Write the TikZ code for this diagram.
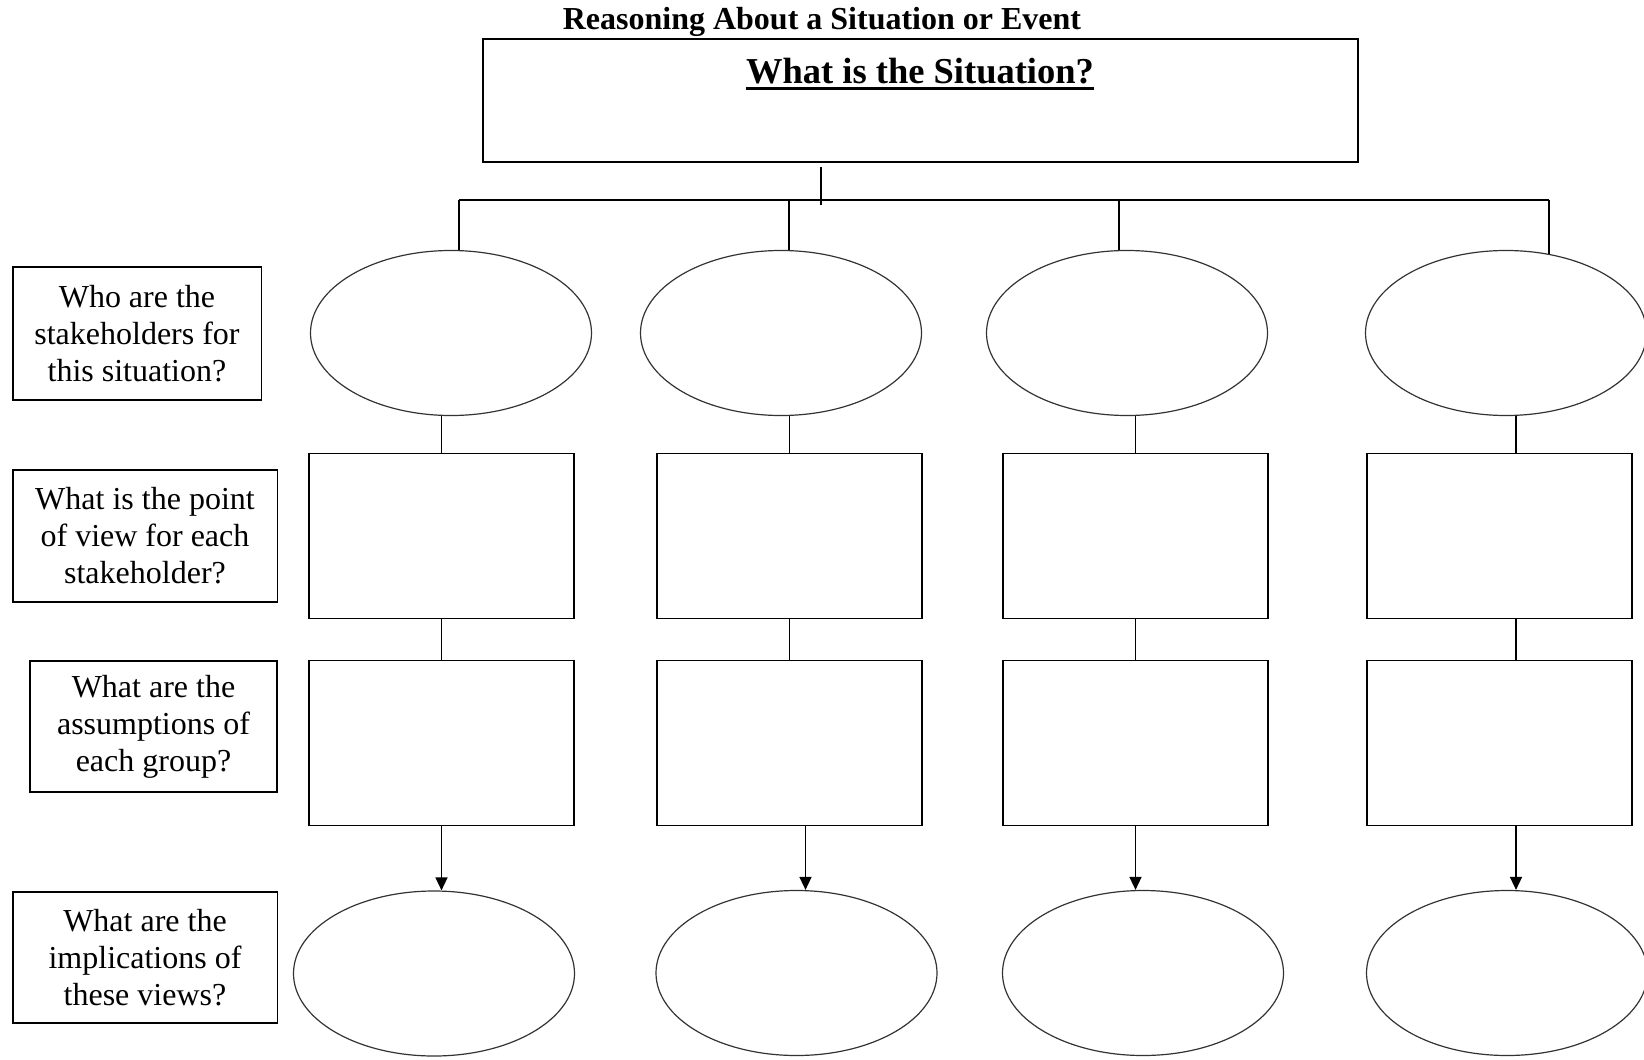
\documentclass[tikz,border=0pt]{standalone}
\usepackage{fontspec}
\setmainfont{Liberation Serif}
\usetikzlibrary{shapes.geometric,arrows.meta}

\tikzset{
    question/.style={draw, line width=1.5pt, align=center, inner sep=0pt,
        font=\fontsize{32}{37}\selectfont},
    oval/.style={draw=black!80, ellipse, line width=1.2pt, inner sep=0pt,
        minimum width=281pt, minimum height=165pt},
    blank/.style={draw, line width=1.6pt, inner sep=0pt,
        minimum width=265pt, minimum height=165pt},
    link/.style={line width=1.5pt},
    flow/.style={line width=1.5pt, -{Triangle[width=12pt,length=13pt]}}
}

\begin{document}
\begin{tikzpicture}[x=1pt, y=-1pt]
        \useasboundingbox (0,0) rectangle (1644,1060);

        % Title and situation box
        \node[anchor=base, inner sep=0pt, font=\fontsize{32}{36}\selectfont\bfseries] (title) at (822,29) {Reasoning About a Situation or Event};
        \node[draw, line width=1.6pt, inner sep=0pt, minimum width=875pt, minimum height=123pt] (sit) at (920.5,100.5) {};
        \node[anchor=base, inner sep=0pt, font=\fontsize{36.5}{40}\selectfont\bfseries] (head) at (920,83) {What is the Situation?};
        \draw[line width=3pt] ([yshift=-5pt]head.base west) -- ([yshift=-5pt]head.base east);

        % Questions on the left
        \node[question, minimum width=248.5pt, minimum height=133pt] (q1) at (137,333.5) {Who are the\\stakeholders for\\this situation?};
        \node[question, minimum width=264.5pt, minimum height=132pt] (q2) at (145,536) {What is the point\\of view for each\\stakeholder?};
        \node[question, minimum width=247pt, minimum height=131pt] (q3) at (153.5,726.5) {What are the\\assumptions of\\each group?};
        \node[question, minimum width=264.5pt, minimum height=131pt] (q4) at (145,957.5) {What are the\\implications of\\these views?};

        % Stakeholders
        \node[oval] (e1) at (451,333) {};
        \node[oval] (e2) at (781,333) {};
        \node[oval] (e3) at (1127,333) {};
        \node[oval] (e4) at (1506,333) {};

        % Points of view
        \node[blank] (p1) at (441.5,536) {};
        \node[blank] (p2) at (789.5,536) {};
        \node[blank] (p3) at (1135.5,536) {};
        \node[blank] (p4) at (1499.5,536) {};

        % Assumptions
        \node[blank] (a1) at (441.5,743) {};
        \node[blank] (a2) at (789.5,743) {};
        \node[blank] (a3) at (1135.5,743) {};
        \node[blank] (a4) at (1499.5,743) {};

        % Implications
        \node[oval] (b1) at (434,973.5) {};
        \node[oval] (b2) at (796.5,973) {};
        \node[oval] (b3) at (1143,973) {};
        \node[oval] (b4) at (1507,973) {};

        % bar under the situation
        \coordinate (stubtop) at (821,167);
        \coordinate (stubend) at (821,205);
        \coordinate (j1) at (459,200);
        \coordinate (j2) at (789,200);
        \coordinate (j3) at (1119,200);
        \coordinate (j4) at (1549,200);
        \draw[link] (stubtop) -- (stubend);
        \draw[link] (j1) -- (j4);
        \draw[link] (j1) -- (j1 |- e1.north);
        \draw[link] (j2) -- (j2 |- e2.north);
        \draw[link] (j3) -- (j3 |- e3.north);
        \draw[link] (j4) -- (j4 |- e4.61);

        % lines down each column
        \draw[link] (p1.north) -- (p1.north |- e1.south);
        \draw[link] (p2.north) -- (p2.north |- e2.south);
        \draw[link] (p3.north) -- (p3.north |- e3.south);
        \draw[link] ([xshift=16.5pt]p4.north) -- ([xshift=16.5pt]p4.north |- e4.south);

        \draw[link] (a1.north) -- (p1.south);
        \draw[link] (a2.north) -- (p2.south);
        \draw[link] (a3.north) -- (p3.south);
        \draw[link] ([xshift=16.5pt]a4.north) -- ([xshift=16.5pt]p4.south);

        % arrows to the implications
        \draw[flow] (a1.south) -- (a1.south |- b1.north);
        \draw[flow] ([xshift=16pt]a2.south) -- ([xshift=16pt]a2.south |- b2.north);
        \draw[flow] (a3.south) -- (a3.south |- b3.north);
        \draw[flow] ([xshift=16.5pt]a4.south) -- ([xshift=16.5pt]a4.south |- b4.north);
    \end{tikzpicture}
\end{document}
